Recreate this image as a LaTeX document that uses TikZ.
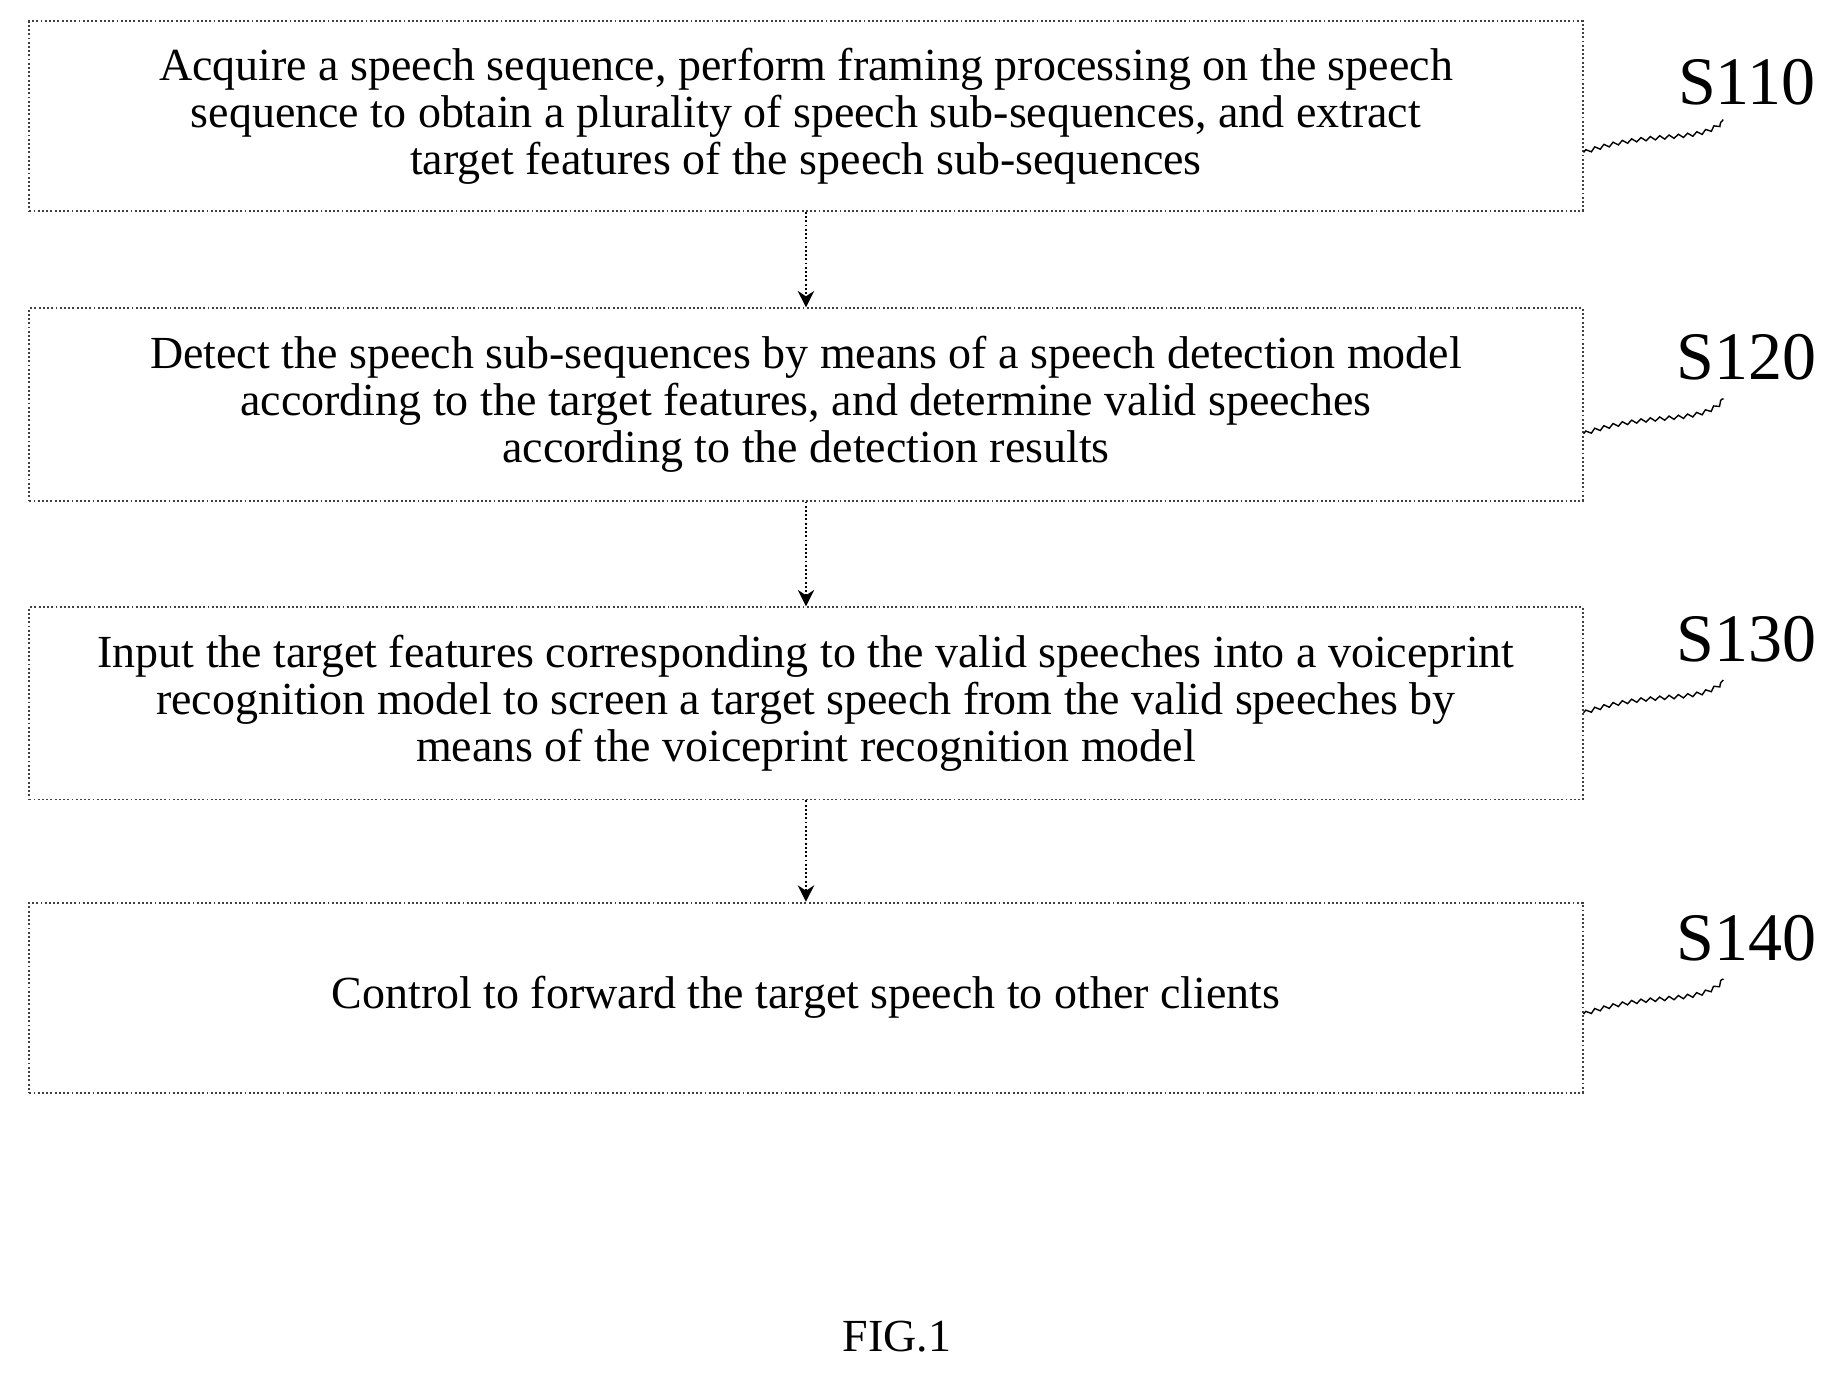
\documentclass[tikz,border=0pt]{standalone}
\usepackage{fontspec}
\setmainfont{Liberation Serif}
\usetikzlibrary{decorations.pathmorphing,arrows.meta}
\begin{document}
\begin{tikzpicture}[x=0.5pt,y=-0.5pt,
  box/.style={draw=black!75,densely dotted,line width=0.8pt,minimum width=662.5pt,align=center,font=\fontsize{19.6}{20}\selectfont,inner sep=0pt},
  lab/.style={font=\fontsize{29}{30}\selectfont},
  arr/.style={densely dotted,line width=0.8pt,-{Stealth[length=7pt,width=7pt]}},
  wav/.style={decorate,decoration={snake,amplitude=0.8pt,segment length=4pt},line width=0.6pt}]
\useasboundingbox (0,0) rectangle (1567,1174);
\node[box,minimum height=81pt] (b1) at (687.5,99) {Acquire a speech sequence, perform framing processing on the speech\\sequence to obtain a plurality of speech sub-sequences, and extract\\target features of the speech sub-sequences};
\node[box,minimum height=82pt] (b2) at (687.5,345) {Detect the speech sub-sequences by means of a speech detection model\\according to the target features, and determine valid speeches\\according to the detection results};
\node[box,minimum height=82pt] (b3) at (687.5,600) {Input the target features corresponding to the valid speeches into a voiceprint\\recognition model to screen a target speech from the valid speeches by\\means of the voiceprint recognition model};
\node[box,minimum height=81pt] (b4) at (687.5,851) {Control to forward the target speech to other clients};
\draw[arr] (b1) -- (b2);
\draw[arr] (b2) -- (b3);
\draw[arr] (b3) -- (b4);
\node[lab] (l1) at (1490,70) {S110};
\node[lab] (l2) at (1490,305) {S120};
\node[lab] (l3) at (1490,545) {S130};
\node[lab] (l4) at (1490,800) {S140};
\coordinate (w1) at (1470,102); \coordinate (w2) at (1470,340);
\coordinate (w3) at (1470,580); \coordinate (w4) at (1470,835);
\draw[wav] (b1.east |- 0,130) .. controls (1410,110) and (1450,125) .. (w1);
\draw[wav] (b2.east |- 0,370) .. controls (1410,350) and (1450,365) .. (w2);
\draw[wav] (b3.east |- 0,608) .. controls (1410,588) and (1450,603) .. (w3);
\draw[wav] (b4.east |- 0,865) .. controls (1410,845) and (1450,860) .. (w4);
\node[font=\fontsize{19.6}{20}\selectfont] (fig) at (765,1140) {FIG.1};
\end{tikzpicture}
\end{document}
